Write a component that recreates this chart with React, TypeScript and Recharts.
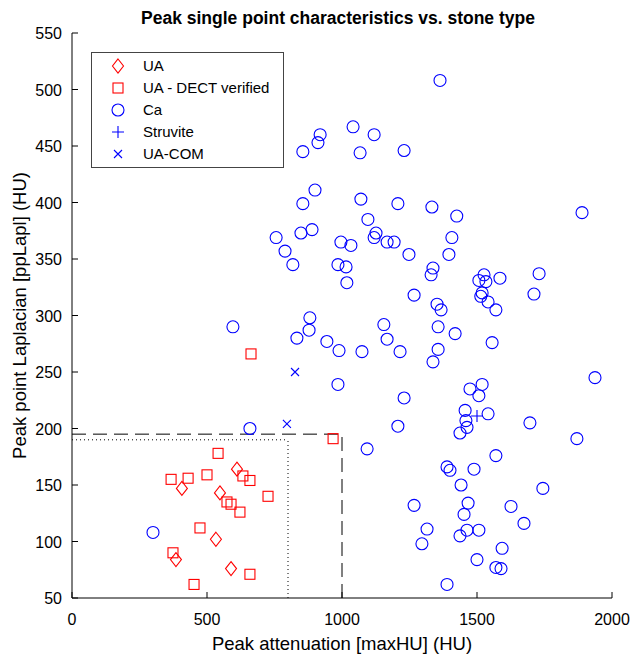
import * as React from 'react'
import { ScatterChart, Scatter, XAxis, YAxis, ReferenceLine, Legend } from 'recharts'

type Pt = [number, number]

const xTicks = [0, 500, 1000, 1500, 2000]
const yTicks = [50, 100, 150, 200, 250, 300, 350, 400, 450, 500, 550]

// [maxHU, ppLapl]
const uaStones: Pt[] = [
  [611, 164], [407, 147], [548, 143], [533, 102], [385, 84], [589, 76],
]

const uaDectStones: Pt[] = [
  [541, 178], [367, 155], [430, 156], [500, 159], [633, 158], [659, 154],
  [726, 140], [574, 135], [589, 133], [622, 126], [474, 112], [374, 90],
  [659, 71], [452, 62], [967, 191], [663, 266],
]

const caStones: Pt[] = [
  [1363, 508], [1041, 467], [1119, 460], [919, 460], [911, 453], [855, 445],
  [1067, 444], [1230, 446], [900, 411], [855, 399], [1070, 403], [1207, 399],
  [1333, 396], [1425, 388], [1096, 385], [1126, 373], [1119, 369], [1167, 365],
  [1193, 365], [848, 373], [889, 376], [996, 365], [1033, 362], [1248, 354],
  [1407, 369], [1396, 354], [789, 357], [756, 369], [818, 345], [985, 345],
  [1015, 343], [1018, 329], [1337, 342], [1330, 336], [1267, 318], [1352, 310],
  [1367, 305], [881, 298], [878, 287], [833, 280], [944, 277], [989, 269],
  [1074, 268], [1155, 292], [1167, 279], [1215, 268], [1356, 290], [1356, 270],
  [1337, 259], [1419, 284], [985, 239], [1230, 227], [596, 290], [659, 200],
  [1093, 182], [300, 108], [1889, 391], [1526, 336], [1507, 331], [1533, 330],
  [1585, 333], [1730, 337], [1519, 320], [1514, 317], [1541, 312], [1570, 305],
  [1711, 319], [1556, 276], [1937, 245], [1474, 235], [1519, 239], [1507, 229],
  [1456, 216], [1459, 207], [1463, 201], [1437, 196], [1541, 213], [1696, 205],
  [1870, 191], [1207, 202], [1570, 176], [1389, 166], [1400, 163], [1489, 164],
  [1441, 150], [1744, 147], [1267, 132], [1467, 134], [1452, 124], [1626, 131],
  [1674, 116], [1315, 111], [1296, 98], [1463, 110], [1437, 105], [1507, 110],
  [1593, 94], [1500, 84], [1570, 77], [1589, 76], [1389, 62],
]

const struviteStones: Pt[] = [[1500, 211]]

const uaComStones: Pt[] = [[826, 250], [796, 204]]

// threshold boxes
const dashedMaxHU = 1000
const dashedLapl = 195
const dottedMaxHU = 800
const dottedLapl = 190

const toData = (pts: Pt[]) => pts.map(([x, y]) => ({ x, y }))

const FONT = '"Liberation Sans", Arial, Helvetica, sans-serif'
const RED = '#ff0000'
const BLUE = '#0000ff'

const Diamond = (p: any) => (
  <path
    d={`M${p.cx},${p.cy - 7}L${p.cx + 5.5},${p.cy}L${p.cx},${p.cy + 7}L${p.cx - 5.5},${p.cy}Z`}
    fill="none"
    stroke={RED}
    strokeWidth={1.1}
  />
)

const Square = (p: any) => (
  <rect x={p.cx - 5} y={p.cy - 5} width={10} height={10} fill="none" stroke={RED} strokeWidth={1.1} />
)

const Circle = (p: any) => (
  <circle cx={p.cx} cy={p.cy} r={6} fill="none" stroke={BLUE} strokeWidth={1.1} />
)

const Plus = (p: any) => (
  <path d={`M${p.cx - 6},${p.cy}H${p.cx + 6}M${p.cx},${p.cy - 6}V${p.cy + 6}`} stroke={BLUE} strokeWidth={1.1} />
)

const Cross = (p: any) => (
  <path
    d={`M${p.cx - 4},${p.cy - 4}L${p.cx + 4},${p.cy + 4}M${p.cx - 4},${p.cy + 4}L${p.cx + 4},${p.cy - 4}`}
    stroke={BLUE}
    strokeWidth={1.1}
  />
)

const legendItems = [
  { label: 'UA', Shape: Diamond },
  { label: 'UA - DECT verified', Shape: Square },
  { label: 'Ca', Shape: Circle },
  { label: 'Struvite', Shape: Plus },
  { label: 'UA-COM', Shape: Cross },
]

const renderLegend = () => (
  <svg width={193} height={116} style={{ display: 'block' }}>
    <rect x={0.5} y={0.5} width={192} height={115} fill="#fff" stroke="#444" />
    {legendItems.map((it, i) => (
      <g key={it.label}>
        <it.Shape cx={27} cy={14 + i * 22} />
        <text x={52} y={14 + i * 22} dy={5} fontSize={15} fontFamily={FONT} fill="#000">
          {it.label}
        </text>
      </g>
    ))}
  </svg>
)

const XTick = (props: any) => {
  const { x, y, payload } = props
  return (
    <g>
      <line x1={x} y1={y} x2={x} y2={y - 6} stroke="#000" />
      <text x={x} y={y + 27} textAnchor="middle" fontSize={16} fontFamily={FONT} fill="#000">
        {payload.value}
      </text>
    </g>
  )
}

const YTick = (props: any) => {
  const { x, y, payload } = props
  return (
    <g>
      <line x1={x} y1={y} x2={x + 6} y2={y} stroke="#000" />
      <text x={x - 10} y={y} dy={6} textAnchor="end" fontSize={16} fontFamily={FONT} fill="#000">
        {payload.value}
      </text>
    </g>
  )
}

const XLabel = (props: any) => {
  const vb = props.viewBox
  return (
    <text x={vb.x + vb.width / 2} y={vb.y + vb.height - 5} textAnchor="middle" fontSize={18.5} fontFamily={FONT} fill="#000">
      Peak attenuation [maxHU] (HU)
    </text>
  )
}

const YLabel = (props: any) => {
  const vb = props.viewBox
  const cx = vb.x + 26
  const cy = vb.y + vb.height / 2
  return (
    <text transform={`translate(${cx},${cy}) rotate(-90)`} textAnchor="middle" fontSize={18.5} fontFamily={FONT} fill="#000">
      Peak point Laplacian [ppLapl] (HU)
    </text>
  )
}

export default function App() {
  return (
    <div style={{ position: 'absolute', left: 0, top: 0, background: '#fff' }}>
      <ScatterChart width={632} height={655} margin={{ top: 33, right: 20, bottom: 0, left: 0 }}>
        <text x={338} y={24} textAnchor="middle" fontSize={17.5} fontWeight="bold" fontFamily={FONT} fill="#000">
          Peak single point characteristics vs. stone type
        </text>
        <XAxis
          type="number"
          dataKey="x"
          domain={[0, 2000]}
          ticks={xTicks}
          height={57}
          tickSize={0}
          tickMargin={0}
          tickLine={false}
          axisLine={{ stroke: '#000' }}
          tick={<XTick />}
          allowDataOverflow
          label={XLabel}
        />
        <YAxis
          type="number"
          dataKey="y"
          domain={[50, 550]}
          ticks={yTicks}
          width={72}
          tickSize={0}
          tickMargin={0}
          tickLine={false}
          axisLine={{ stroke: '#000' }}
          tick={<YTick />}
          allowDataOverflow
          label={YLabel}
        />
        <ReferenceLine
          segment={[{ x: 0, y: dashedLapl }, { x: dashedMaxHU, y: dashedLapl }]}
          stroke="#000"
          strokeDasharray="14 7"
        />
        <ReferenceLine
          segment={[{ x: dashedMaxHU, y: 50 }, { x: dashedMaxHU, y: dashedLapl }]}
          stroke="#000"
          strokeDasharray="14 7"
        />
        <ReferenceLine
          segment={[{ x: 0, y: dottedLapl }, { x: dottedMaxHU, y: dottedLapl }]}
          stroke="#000"
          strokeDasharray="1 3"
        />
        <ReferenceLine
          segment={[{ x: dottedMaxHU, y: 50 }, { x: dottedMaxHU, y: dottedLapl }]}
          stroke="#000"
          strokeDasharray="1 3"
        />
        <Scatter name="UA" data={toData(uaStones)} shape={Diamond} isAnimationActive={false} />
        <Scatter name="UA - DECT verified" data={toData(uaDectStones)} shape={Square} isAnimationActive={false} />
        <Scatter name="Ca" data={toData(caStones)} shape={Circle} isAnimationActive={false} />
        <Scatter name="Struvite" data={toData(struviteStones)} shape={Plus} isAnimationActive={false} />
        <Scatter name="UA-COM" data={toData(uaComStones)} shape={Cross} isAnimationActive={false} />
        <Legend
          layout="vertical"
          align="center"
          verticalAlign="middle"
          content={renderLegend}
          wrapperStyle={{ left: 91, top: 52, width: 193, height: 116 }}
        />
      </ScatterChart>
    </div>
  )
}
